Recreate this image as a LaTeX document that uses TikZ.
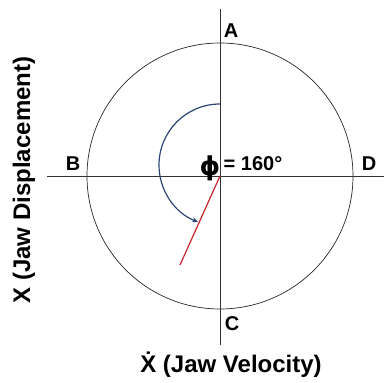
\documentclass[tikz,border=0pt]{standalone}
\usepackage{fontspec}
\setmainfont{Liberation Sans}
\newfontfamily\phifont{DejaVu Sans}
\usetikzlibrary{arrows.meta}
\definecolor{arcline}{HTML}{2B4675}
\definecolor{phaseline}{HTML}{C4262B}

\begin{document}
\begin{tikzpicture}[
  x=1pt, y=1pt, font=\bfseries,
  axis/.style={draw=black!80, line width=0.8pt},
  pt/.style={font=\fontsize{20}{22}\selectfont\bfseries, inner sep=0pt},
  axlab/.style={font=\fontsize{24}{26}\selectfont\bfseries, inner sep=0pt}]
\useasboundingbox (-220,-207) rectangle (164,176);
% ---------------- circle and axes
\coordinate (o) at (0,0);
\draw[black!85, line width=0.7pt] (o) circle (133);
\draw[axis] (-173,0) coordinate (hl) -- (164,0) coordinate (hr);
\draw[axis] (0,167) coordinate (vt) -- (0,-169) coordinate (vb);
% ---------------- quadrant points
\node[pt] (A) at (11,145)   {A};
\node[pt] (B) at (-147,12)  {B};
\node[pt] (D) at (149,12)   {D};
\node[pt] (C) at (12,-148)  {C};
% ---------------- phase angle
\coordinate (s) at (0,72);
\coordinate (ph) at (-40,-89);
\draw[phaseline, line width=1.2pt] (o) -- (ph);
\draw[arcline, line width=1.2pt, -{Stealth[length=6pt,width=5pt]}]
  (s) arc[start angle=90, end angle=249, radius=61] coordinate (e);
\node[inner sep=0pt, font=\fontsize{26}{28}\selectfont\bfseries\phifont] (phi) at (-10,8) {ϕ};
\node[inner sep=0pt, font=\fontsize{20}{22}\selectfont\bfseries] (val) at (33,12) {= 160°};
% ---------------- axis labels
\node[axlab, rotate=90] (xlab) at (-196,-4) {X (Jaw Displacement)};
\node[axlab] (vlab) at (11,-189) {\.{X} (Jaw Velocity)};
\end{tikzpicture}
\end{document}
